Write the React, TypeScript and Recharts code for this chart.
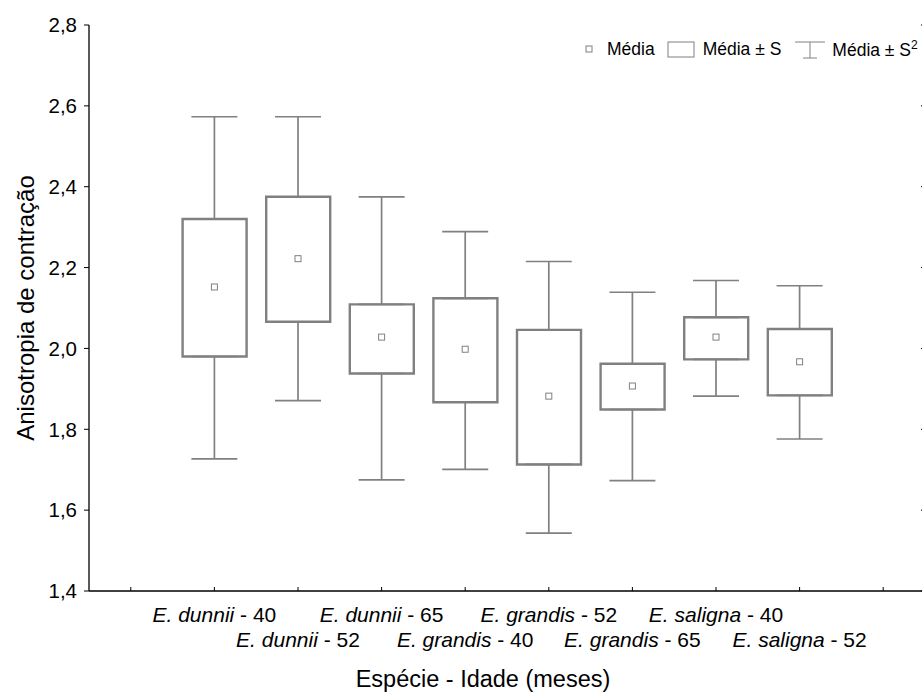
import React from "react";
import {
  ComposedChart,
  Bar,
  Scatter,
  ErrorBar,
  XAxis,
  YAxis,
} from "recharts";

// Box plot of shrinkage anisotropy per species / age: mean, mean ± S (box), mean ± S² (whiskers)

const species = [
  "E. dunnii",
  "E. dunnii",
  "E. dunnii",
  "E. grandis",
  "E. grandis",
  "E. grandis",
  "E. saligna",
  "E. saligna",
];
const ages = [40, 52, 65, 40, 52, 65, 40, 52];

const means = [2.152, 2.222, 2.028, 1.998, 1.882, 1.907, 2.028, 1.967];
const boxLow = [1.98, 2.066, 1.938, 1.867, 1.713, 1.849, 1.973, 1.884];
const boxHigh = [2.32, 2.375, 2.109, 2.124, 2.046, 1.962, 2.077, 2.048];
const whiskerLow = [1.727, 1.871, 1.675, 1.701, 1.543, 1.673, 1.882, 1.776];
const whiskerHigh = [2.573, 2.573, 2.375, 2.289, 2.215, 2.139, 2.168, 2.155];

const yTicks = [1.4, 1.6, 1.8, 2.0, 2.2, 2.4, 2.6, 2.8];
const xTicks = [0, 1, 2, 3, 4, 5, 6, 7, 8, 9];

const GRAY = "#808080";
const FONT = "'Liberation Sans', Arial, sans-serif";

const rows = means.map((m, i) => ({
  x: i + 1,
  mean: m,
  box: [boxLow[i], boxHigh[i]],
  boxLow: boxLow[i],
  boxHigh: boxHigh[i],
  upErr: [0, whiskerHigh[i] - boxHigh[i]],
  downErr: [boxLow[i] - whiskerLow[i], 0],
}));

const EmptyTick = () => <g />;
const NoShape = () => <g />;

const MeanMarker = (props: any) => {
  const { cx, cy } = props;
  return (
    <rect
      x={cx - 3}
      y={cy - 3}
      width={6}
      height={6}
      fill="#fff"
      stroke={GRAY}
      strokeWidth={1}
    />
  );
};

const CategoryTick = (props: any) => {
  const { x, y, payload } = props;
  const i = payload.value - 1;
  if (i < 0 || i >= species.length) return <g />;
  const baseline = y + (i % 2 === 0 ? 35 : 60);
  return (
    <text x={x} y={baseline} textAnchor="middle" fontSize={21} fill="#000" fontFamily={FONT}>
      <tspan fontStyle="italic">{species[i]}</tspan>
      <tspan>{` - ${ages[i]}`}</tspan>
    </text>
  );
};

const YTitle = (props: any) => {
  const { viewBox } = props;
  const cx = viewBox.x + 25;
  const cy = viewBox.y + viewBox.height / 2;
  return (
    <text
      x={cx}
      y={cy}
      transform={`rotate(-90, ${cx}, ${cy})`}
      textAnchor="middle"
      dominantBaseline="central"
      fontSize={24}
      fill="#000"
      fontFamily={FONT}
    >
      Anisotropia de contração
    </text>
  );
};

const XTitle = (props: any) => {
  const { viewBox } = props;
  return (
    <text
      x={viewBox.x + 394}
      y={viewBox.y + 96}
      textAnchor="middle"
      fontSize={23.5}
      fill="#000"
      fontFamily={FONT}
    >
      Espécie - Idade (meses)
    </text>
  );
};

// legend drawn as an overlay so it takes no room from the plot area
const LegendBox = () => (
  <div
    style={{
      position: "absolute",
      top: 38,
      left: 584,
      display: "flex",
      alignItems: "center",
      fontSize: 17.5,
      fontFamily: FONT,
      color: "#000",
      whiteSpace: "nowrap",
    }}
  >
    <svg width={10} height={10} style={{ marginRight: 13 }}>
      <rect x={2} y={2} width={6} height={6} fill="#fff" stroke={GRAY} strokeWidth={1} />
    </svg>
    <span style={{ marginRight: 12 }}>Média</span>
    <svg width={28} height={17} style={{ marginRight: 8 }}>
      <rect x={1} y={1} width={26} height={15} fill="#fff" stroke={GRAY} strokeWidth={1} />
    </svg>
    <span style={{ marginRight: 13 }}>Média ± S</span>
    <svg width={32} height={19} style={{ marginRight: 6 }}>
      <line x1={1} y1={2} x2={31} y2={2} stroke={GRAY} strokeWidth={1} />
      <line x1={16} y1={2} x2={16} y2={18} stroke={GRAY} strokeWidth={1} />
      <line x1={9} y1={18} x2={23} y2={18} stroke={GRAY} strokeWidth={1} />
    </svg>
    <span>
      Média ± S<sup style={{ fontSize: 12 }}>2</sup>
    </span>
  </div>
);

export default function App() {
  return (
    <div
      style={{
        position: "fixed",
        left: 0,
        top: 0,
        width: 922,
        height: 693,
        overflow: "hidden",
        background: "#fff",
        fontFamily: FONT,
      }}
    >
      <ComposedChart
        width={940}
        height={693}
        data={rows}
        margin={{ top: 25, right: 0, bottom: 0, left: 0 }}
      >
        <XAxis
          dataKey="x"
          type="number"
          domain={[-0.5, 9.5]}
          ticks={xTicks}
          allowDataOverflow
          height={102}
          tickSize={-4}
          tickMargin={0}
          tick={<CategoryTick />}
          interval={0}
          axisLine={{ stroke: "#000", strokeWidth: 1.3 }}
          tickLine={{ stroke: "#000", strokeWidth: 1 }}
          label={<XTitle />}
        />
        <XAxis
          xAxisId="top"
          orientation="top"
          type="number"
          domain={[-0.5, 9.5]}
          ticks={xTicks}
          allowDataOverflow
          height={0}
          tickSize={-4}
          tick={EmptyTick}
          interval={0}
          axisLine={{ stroke: "#000", strokeWidth: 1.3 }}
          tickLine={{ stroke: "#000", strokeWidth: 1 }}
        />
        <YAxis
          type="number"
          domain={[1.4, 2.8]}
          ticks={yTicks}
          allowDataOverflow
          width={89}
          tickSize={5}
          tickMargin={7}
          interval={0}
          tickFormatter={(v: number) => v.toFixed(1).replace(".", ",")}
          tick={{ fill: "#000", fontSize: 20.5, fontFamily: FONT }}
          axisLine={{ stroke: "#000", strokeWidth: 1.3 }}
          tickLine={{ stroke: "#000", strokeWidth: 1 }}
          label={<YTitle />}
        />
        <YAxis
          yAxisId="right"
          orientation="right"
          type="number"
          domain={[1.4, 2.8]}
          ticks={yTicks}
          allowDataOverflow
          width={15}
          tickSize={-4}
          tick={EmptyTick}
          interval={0}
          axisLine={{ stroke: "#000", strokeWidth: 1.3 }}
          tickLine={{ stroke: "#000", strokeWidth: 1 }}
        />
        <Scatter dataKey="boxHigh" shape={NoShape} isAnimationActive={false}>
          <ErrorBar
            dataKey="upErr"
            direction="y"
            width={23}
            stroke={GRAY}
            strokeWidth={1.7}
          />
        </Scatter>
        <Scatter dataKey="boxLow" shape={NoShape} isAnimationActive={false}>
          <ErrorBar
            dataKey="downErr"
            direction="y"
            width={23}
            stroke={GRAY}
            strokeWidth={1.7}
          />
        </Scatter>
        <Bar
          dataKey="box"
          barSize={64}
          fill="#fff"
          stroke={GRAY}
          strokeWidth={2.4}
          isAnimationActive={false}
        />
        <Scatter dataKey="mean" shape={MeanMarker} isAnimationActive={false} />
      </ComposedChart>
      <LegendBox />
    </div>
  );
}
